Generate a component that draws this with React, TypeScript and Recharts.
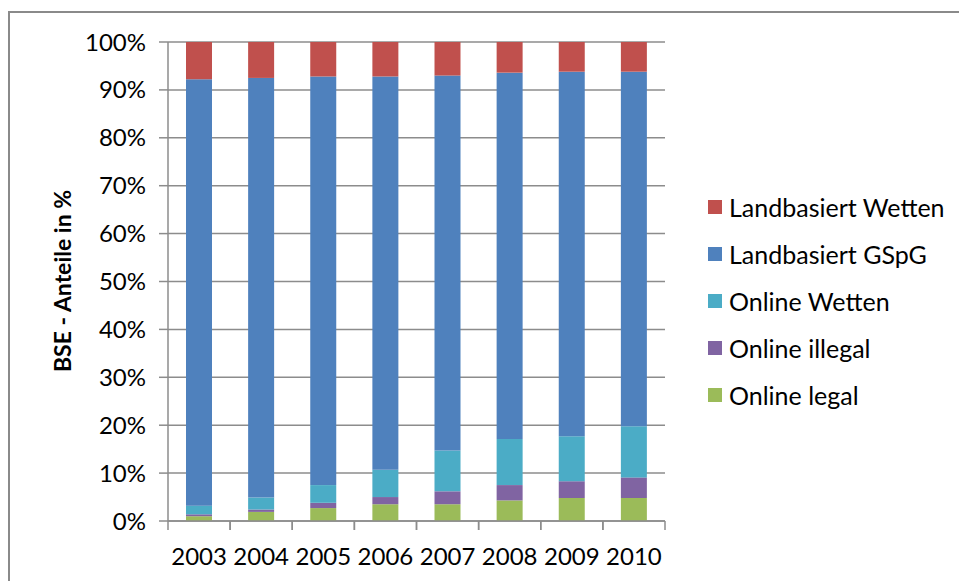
import { BarChart, Bar, XAxis, YAxis, CartesianGrid, Legend } from "recharts";

const years = ["2003", "2004", "2005", "2006", "2007", "2008", "2009", "2010"];

// shares in percent (bottom of the stack first)
const onlineLegal = [1.0, 1.9, 2.7, 3.5, 3.5, 4.3, 4.8, 4.8];
const onlineIllegal = [0.4, 0.5, 1.1, 1.5, 2.7, 3.2, 3.5, 4.3];
const onlineWetten = [1.8, 2.5, 3.7, 5.7, 8.5, 9.6, 9.4, 10.7];
const landGSpG = [89.0, 87.6, 85.3, 82.1, 78.3, 76.5, 76.1, 74.0];
const landWetten = [7.8, 7.5, 7.2, 7.2, 7.0, 6.4, 6.2, 6.2];

const yTicks = [0, 10, 20, 30, 40, 50, 60, 70, 80, 90, 100];

const series = [
    { key: "legal", name: "Online legal", color: "#9BBB59", values: onlineLegal },
    { key: "illegal", name: "Online illegal", color: "#8064A2", values: onlineIllegal },
    { key: "owetten", name: "Online Wetten", color: "#4BACC6", values: onlineWetten },
    { key: "gspg", name: "Landbasiert GSpG", color: "#4F81BD", values: landGSpG },
    { key: "lwetten", name: "Landbasiert Wetten", color: "#C0504D", values: landWetten },
];

const data = years.map((year, i) => {
    const row: Record<string, string | number> = { year };
    series.forEach((s) => {
        row[s.key] = s.values[i];
    });
    return row;
});

const FONT = "Lato, 'Open Sans', sans-serif";
const GRID = "#8c8c8c";
const X_TICK_SIZE = 9;
const X_TICK_MARGIN = 18;

const XTick = ({ x, y, payload }: any) => {
    const half = payload.offset || 31;
    const axisY = y - X_TICK_SIZE - X_TICK_MARGIN;
    return (
        <g>
            <line x1={x - half} y1={axisY} x2={x - half} y2={axisY + X_TICK_SIZE} stroke={GRID} strokeWidth={1.5} />
            <line x1={x + half} y1={axisY} x2={x + half} y2={axisY + X_TICK_SIZE} stroke={GRID} strokeWidth={1.5} />
            <text x={x} y={y} dy="0.71em" textAnchor="middle" fill="#000" fontSize={24} fontFamily={FONT}>
                {payload.value}
            </text>
        </g>
    );
};

const YLabel = () => (
    <text
        x={62}
        y={281}
        transform="rotate(-90 62 281)"
        textAnchor="middle"
        dominantBaseline="central"
        fill="#000"
        fontSize={23}
        fontWeight="bold"
        fontFamily={FONT}
    >
        BSE - Anteile in %
    </text>
);

const LegendContent = () => (
    <div style={{ fontFamily: FONT, fontSize: 25, color: "#000" }}>
        {[...series].reverse().map((s) => (
            <div key={s.key} style={{ display: "flex", alignItems: "center", height: 47 }}>
                <div style={{ width: 14, height: 14, background: s.color, marginRight: 7 }} />
                <span style={{ whiteSpace: "nowrap" }}>{s.name}</span>
            </div>
        ))}
    </div>
);

export default function App() {
    return (
        <div style={{ position: "absolute", left: 0, top: 0, width: 959, height: 581, overflow: "hidden", background: "#fff" }}>
            <div
                style={{
                    position: "absolute",
                    left: 8,
                    top: 11,
                    width: 1000,
                    height: 700,
                    border: "2px solid #8a8a8a",
                }}
            />
            <div style={{ position: "absolute", left: 0, top: 0 }}>
                <BarChart
                    width={959}
                    height={581}
                    data={data}
                    margin={{ top: 42, right: 294, bottom: 0, left: 0 }}
                >
                    <CartesianGrid vertical={false} stroke={GRID} strokeWidth={1.5} />
                    <XAxis
                        dataKey="year"
                        height={60}
                        axisLine={{ stroke: GRID, strokeWidth: 1.5 }}
                        tickLine={false}
                        tickSize={X_TICK_SIZE}
                        tickMargin={X_TICK_MARGIN}
                        tick={<XTick />}
                        interval={0}
                    />
                    <YAxis
                        width={168}
                        domain={[0, 100]}
                        ticks={yTicks}
                        tickFormatter={(v: number) => `${v}%`}
                        axisLine={{ stroke: GRID, strokeWidth: 1.5 }}
                        tickLine={{ stroke: GRID, strokeWidth: 1.5 }}
                        tickSize={9}
                        tickMargin={13}
                        tick={{ fill: "#000", fontSize: 24, fontFamily: FONT }}
                        label={<YLabel />}
                        interval={0}
                    />
                    <Legend
                        layout="horizontal"
                        verticalAlign="middle"
                        align="center"
                        content={<LegendContent />}
                        wrapperStyle={{ left: 708, top: 183, width: 251, right: "auto", bottom: "auto" }}
                    />
                    {series.map((s) => (
                        <Bar
                            key={s.key}
                            dataKey={s.key}
                            name={s.name}
                            stackId="a"
                            fill={s.color}
                            barSize={26}
                            isAnimationActive={false}
                        />
                    ))}
                </BarChart>
            </div>
        </div>
    );
}
